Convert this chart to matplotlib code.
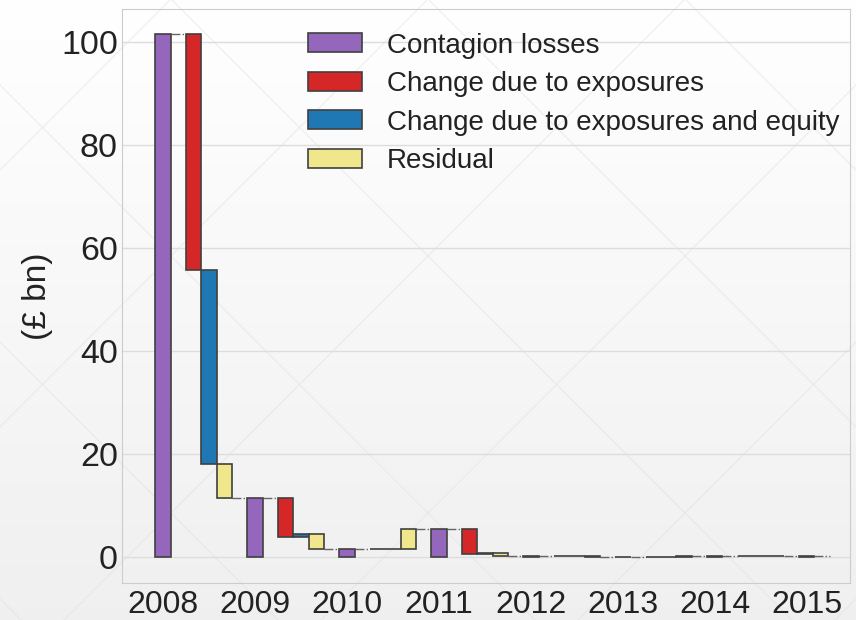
import numpy as np
import matplotlib.pyplot as plt

# contagion losses waterfall, values in £bn
years = ['2008', '2009', '2010', '2011', '2012', '2013', '2014', '2015']
contagion = [101.5, 11.5, 1.5, 5.4, 0.2, 0.05, 0.2, 0.2]
exposures = [-45.7, -7.7, 0.0, -4.8, 0.0, 0.0, -0.1, np.nan]
exposures_equity = [-37.7, 0.7, 0.0, 0.15, 0.0, 0.0, 0.1, np.nan]
residual = [-6.6, -3.0, 3.9, -0.55, -0.15, 0.15, 0.0, np.nan]

labels = ['Contagion losses', 'Change due to exposures',
          'Change due to exposures and equity', 'Residual']
colors = ['#9467bd', '#d62728', '#1f77b4', '#f0e68c']

plt.rcParams['font.family'] = ['Liberation Sans', 'DejaVu Sans']

fig = plt.figure(figsize=(8.56, 6.2), dpi=100)

# faint background: grey gradient plus diagonal watermark lines
bg = fig.add_axes([0, 0, 1, 1], zorder=-10)
grad = np.linspace(1.0, 0.94, 256).reshape(-1, 1)
bg.imshow(np.dstack([grad, grad, grad]), aspect='auto', extent=[0, 856, 620, 0])
for c in range(-1200, 1300, 257):
    bg.plot([0, 856], [c, c + 856], color='#dcdcdc', lw=0.8, alpha=0.45)
    bg.plot([0, 856], [c + 856, c], color='#dcdcdc', lw=0.8, alpha=0.45)
bg.set_xlim(0, 856)
bg.set_ylim(620, 0)
bg.axis('off')

ax = fig.add_axes([122 / 856, 1 - 583 / 620, 728 / 856, 574 / 620])
ax.set_facecolor('none')

w = 1 / 6
offsets = [0, 2 * w, 3 * w, 4 * w]
edge = '#404040'

for i in range(len(years)):
    steps = [exposures[i], exposures_equity[i], residual[i]]
    level = contagion[i]
    ax.bar(i, contagion[i], width=w, color=colors[0], edgecolor=edge, lw=1.2, zorder=3)
    prev_right = i + w / 2
    for k, s in enumerate(steps):
        x = i + offsets[k + 1]
        # dash-dot connector from the previous bar to this one
        ax.plot([prev_right, x - w / 2], [level, level], color='#666666',
                ls='-.', lw=1.0, zorder=2)
        if np.isnan(s):
            break
        ax.bar(x, s, bottom=level, width=w, color=colors[k + 1],
               edgecolor=edge, lw=1.2, zorder=3)
        level = level + s
        prev_right = x + w / 2
    else:
        ax.plot([prev_right, i + 1 - w / 2], [level, level], color='#666666',
                ls='-.', lw=1.0, zorder=2)

handles = [plt.Rectangle((0, 0), 1, 1, facecolor=c, edgecolor=edge, lw=1.2) for c in colors]
ax.legend(handles, labels, loc='upper left', bbox_to_anchor=(0.255, 0.959),
          frameon=False, fontsize=20, handlelength=1.95, handleheight=0.68,
          handletextpad=0.9, labelspacing=0.45, borderaxespad=0, borderpad=0,
          labelcolor='#222222')

ax.set_xlim(-0.446, 7.47)
ax.set_ylim(-5.05, 106.4)
ax.set_yticks([0, 20, 40, 60, 80, 100])
ax.set_xticks(range(len(years)))
ax.set_xticklabels(years)
ax.tick_params(length=0, colors='#222222')
ax.tick_params(axis='x', pad=5, labelsize=23)
ax.tick_params(axis='y', pad=3, labelsize=24.5)
ax.grid(axis='y', color='#dddddd', lw=1.0, zorder=0)
ax.set_axisbelow(True)
for sp in ax.spines.values():
    sp.set_color('#cccccc')
ax.set_ylabel('(£ bn)', fontsize=24, color='#222222', labelpad=6)

fig.savefig('out.png', dpi=100)
